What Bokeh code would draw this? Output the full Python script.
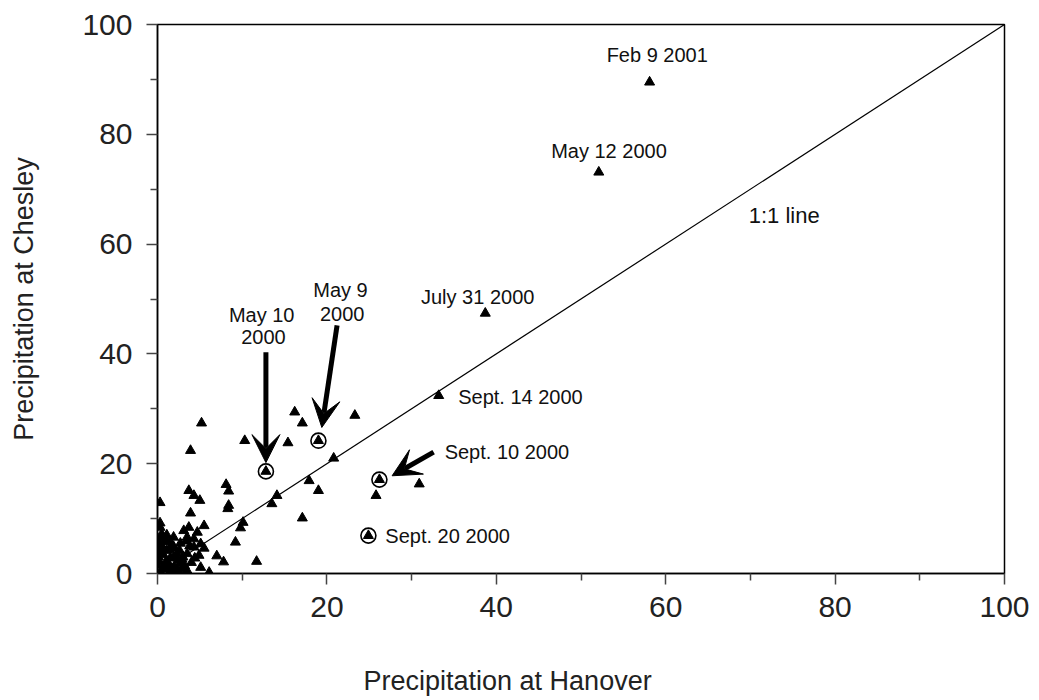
from bokeh.plotting import figure
from bokeh.models import (Range1d, FixedTicker, Label, Arrow, VeeHead, Title,
                          LinearAxis)
from bokeh.embed import file_html
from bokeh.resources import INLINE

# ---------------- data ----------------
hanover = [58.1, 52.1, 38.7, 33.2, 26.2, 30.9, 25.8, 24.9, 19.0, 12.8,
           5.2, 16.2, 17.1, 23.3, 10.3, 15.4, 3.9, 20.8, 17.9, 19.0,
           8.1, 8.4, 3.7, 4.3, 5.0, 0.3, 14.1, 13.5, 8.4, 8.3,
           3.9, 17.1, 10.1, 9.8, 5.5, 0.3, 3.7, 9.2, 7.0, 7.8,
           11.7, 5.1, 6.1, 5.1,
           0.4, 0.4, 1.1, 1.9, 2.7, 3.5, 4.3, 2.7, 0.4, 1.5,
           3.5, 4.3, 4.7, 3.1, 1.9, 0.1, 1.0, 0.0, 2.3, 5.5,
           3.5, 4.9, 0.6, 2.0, 1.2, 0.3, 2.9, 4.0, 0.8, 2.5, 1.5,
           0.2, 0.7, 1.3, 1.8, 2.2, 2.6, 3.2, 3.8, 4.4, 0.5,
           0.9, 1.6, 2.4, 3.0, 0.2, 1.1, 1.7, 2.1, 0.6, 1.4,
           2.8, 3.4, 0.3, 0.9, 1.9]
chesley = [89.5, 73.1, 47.4, 32.4, 17.1, 16.3, 14.2, 6.9, 24.2, 18.6,
           27.4, 29.4, 27.4, 28.8, 24.2, 23.8, 22.4, 21.0, 16.9, 15.1,
           16.2, 15.0, 15.1, 14.2, 13.3, 12.9, 14.2, 12.7, 12.4, 11.8,
           11.0, 10.1, 9.3, 8.3, 8.7, 8.4, 8.4, 5.7, 3.2, 2.1,
           2.2, 1.1, 0.2, 5.4,
           6.6, 5.0, 4.2, 3.0, 5.5, 6.6, 4.8, 1.9, 0.2, 0.5,
           0.5, 6.3, 7.5, 7.8, 6.6, 3.0, 2.2, 1.5, 3.6, 4.6,
           3.6, 3.3, 1.0, 1.2, 5.8, 4.0, 2.6, 2.0, 0.8, 0.3, 2.8,
           5.6, 3.4, 1.8, 4.6, 0.6, 4.2, 1.4, 5.0, 2.8, 7.2,
           6.0, 0.9, 2.4, 3.0, 2.2, 7.0, 5.2, 0.4, 4.8, 4.3,
           0.9, 5.9, 9.2, 1.4, 4.9]

# highlighted (circled) events: May 10, May 9, Sept. 10, Sept. 20 2000
circled_hanover = [12.8, 19.0, 26.2, 24.9]
circled_chesley = [18.6, 24.2, 17.1, 6.9]

one_to_one = [0, 100]

major_ticks = [0, 20, 40, 60, 80, 100]
minor_ticks = [10, 30, 50, 70, 90]

x_title = "Precipitation at Hanover"
y_title = "Precipitation at Chesley"

# event labels (text, anchor in data units, alignment)
event_text = ["Feb 9 2001", "May 12 2000", "July 31 2000",
              "Sept. 14 2000", "Sept. 10 2000", "Sept. 20 2000",
              "May 10", "2000", "May 9", "2000"]
event_x = [59.0, 53.3, 37.8, 35.5, 33.9, 26.9, 12.3, 12.5, 21.6, 21.8]
event_y = [94.4, 76.9, 50.3, 32.2, 22.2, 6.9, 47.0, 43.0, 51.7, 47.3]
event_align = ["center", "center", "center", "left", "left", "left",
               "center", "center", "center", "center"]

line_label = "1:1 line"
line_label_x, line_label_y = 69.8, 65.2

# arrows pointing at circled events: (x_start, y_start, x_end, y_end)
arrow_x0 = [12.8, 21.2, 32.6]
arrow_y0 = [40.3, 45.2, 22.1]
arrow_x1 = [12.8, 19.4, 27.7]
arrow_y1 = [20.2, 26.6, 17.8]

FONT = "Liberation Sans"

p = figure(width=1030, height=699, output_backend="svg", toolbar_location=None,
           x_range=Range1d(0, 100), y_range=Range1d(0, 100),
           min_border_left=157, min_border_right=26,
           min_border_top=24, min_border_bottom=126)
p.background_fill_color = "white"
p.border_fill_color = "white"
p.outline_line_color = "black"
p.outline_line_width = 1.5
p.grid.visible = False

for ax in (p.xaxis[0], p.yaxis[0]):
    ax.ticker = FixedTicker(ticks=major_ticks, minor_ticks=minor_ticks)
    ax.axis_line_color = "black"
    ax.axis_line_width = 1.5
    ax.major_tick_line_color = "#444"
    ax.minor_tick_line_color = "#444"
    ax.major_tick_line_width = 1.5
    ax.minor_tick_line_width = 1.5
    ax.major_tick_in = 0
    ax.minor_tick_in = 0
    ax.major_tick_out = 11
    ax.minor_tick_out = 7
    ax.major_label_text_font = FONT
    ax.major_label_text_font_size = "30px"
    ax.major_label_text_color = "#222"
p.xaxis.major_label_standoff = 12
p.yaxis.major_label_standoff = 14

p.yaxis.axis_label = y_title
p.yaxis.axis_label_text_font = FONT
p.yaxis.axis_label_text_font_size = "27px"
p.yaxis.axis_label_text_font_style = "normal"
p.yaxis.axis_label_text_color = "#222"
p.yaxis.axis_label_standoff = 40

# empty gap below the x axis (one blank white tick), then the x title
gap = LinearAxis(ticker=FixedTicker(ticks=[50], minor_ticks=[]),
                 axis_line_color="white",
                 major_tick_line_color="white", minor_tick_line_color="white",
                 major_tick_in=0, major_tick_out=44, minor_tick_in=0,
                 minor_tick_out=0, major_label_standoff=0,
                 major_label_overrides={50: ""},
                 major_label_text_font_size="1px")
p.add_layout(gap, "below")
p.add_layout(Title(text=x_title, align="left", offset=206, standoff=0,
                   text_font=FONT, text_font_size="27px",
                   text_font_style="normal", text_color="#222"), "below")

# 1:1 line
p.line(one_to_one, one_to_one, line_color="black", line_width=1.2)

# all events
p.scatter(hanover, chesley, marker="triangle", size=10,
          fill_color="black", line_color="black")
# circled events
p.scatter(circled_hanover, circled_chesley, marker="circle", size=15,
          fill_color=None, line_color="black", line_width=1.6)

# arrows
for xs, ys, xe, ye in zip(arrow_x0, arrow_y0, arrow_x1, arrow_y1):
    p.add_layout(Arrow(x_start=xs, y_start=ys, x_end=xe, y_end=ye,
                       line_color="black", line_width=5,
                       end=VeeHead(size=28, fill_color="black",
                                   line_color="black", line_width=1)))

# event labels
for t, x, y, a in zip(event_text, event_x, event_y, event_align):
    p.add_layout(Label(x=x, y=y, text=t, text_font=FONT,
                       text_font_size="20px", text_color="#111",
                       text_align=a, text_baseline="middle"))

p.add_layout(Label(x=line_label_x, y=line_label_y, text=line_label,
                   text_font=FONT, text_font_size="22px", text_color="#111",
                   text_align="left", text_baseline="middle"))

open("out.html", "w").write(file_html(p, INLINE))
